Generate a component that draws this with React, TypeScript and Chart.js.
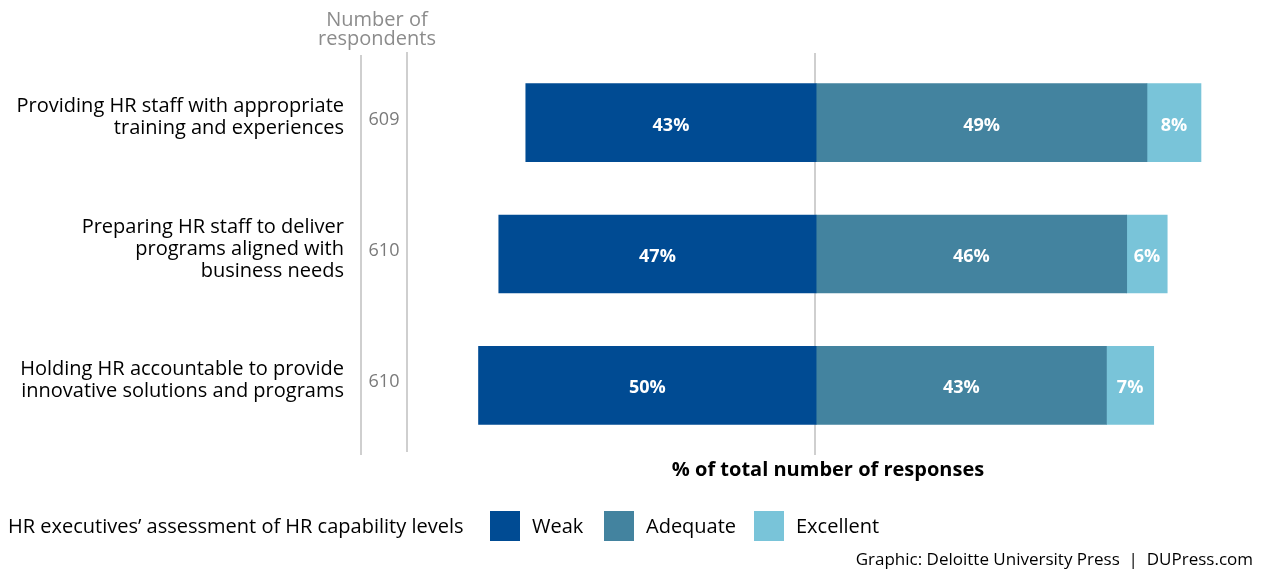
import React, { useEffect, useRef } from "react";
import { Chart, registerables } from "chart.js";

Chart.register(...registerables);

const categories: string[][] = [
  ["Providing HR staff with appropriate", "training and experiences"],
  ["Preparing HR staff to deliver", "programs aligned with", "business needs"],
  ["Holding HR accountable to provide", "innovative solutions and programs"],
];
const respondents = [609, 610, 610];
const weak = [43, 47, 50];
const adequate = [49, 46, 43];
const excellent = [8, 6, 7];
const seriesNames = ["Weak", "Adequate", "Excellent"];
const colors = ["#004B93", "#43839F", "#79C4D9"];

const FONT = "'Open Sans', 'Noto Sans', sans-serif";

const overlay = {
  id: "overlay",
  afterDatasetsDraw(chart: any) {
    const ctx = chart.ctx;
    ctx.save();
    ctx.fillStyle = "#ffffff";
    ctx.font = `bold 18px ${FONT}`;
    ctx.textAlign = "center";
    ctx.textBaseline = "middle";
    chart.data.datasets.forEach((ds: any, di: number) => {
      const meta = chart.getDatasetMeta(di);
      meta.data.forEach((bar: any, i: number) => {
        const v = Math.abs(ds.data[i]);
        const cx = (bar.x + bar.base) / 2;
        ctx.fillText(`${v}%`, cx, bar.y + 3);
      });
    });
    ctx.restore();
  },
  beforeDatasetsDraw(chart: any) {
    const ctx = chart.ctx;
    const y = chart.scales.y;
    const x = chart.scales.x;
    ctx.save();
    ctx.strokeStyle = "#cfcfcf";
    ctx.lineWidth = 2;
    const zx = Math.round(x.getPixelForValue(0)) - 1;
    ctx.beginPath();
    ctx.moveTo(zx, 53);
    ctx.lineTo(zx, 455);
    ctx.moveTo(361, 55);
    ctx.lineTo(361, 455);
    ctx.moveTo(407, 52);
    ctx.lineTo(407, 452);
    ctx.stroke();

    ctx.fillStyle = "#8c8c8c";
    ctx.font = `20px ${FONT}`;
    ctx.textAlign = "center";
    ctx.textBaseline = "middle";
    ctx.fillText("Number of", 377, 20);
    ctx.fillText("respondents", 377, 39);

    categories.forEach((lines, i) => {
      const cy = y.getPixelForValue(i) - 5;
      const lh = 22;
      ctx.fillStyle = "#000000";
      ctx.font = `20px ${FONT}`;
      ctx.textAlign = "right";
      lines.forEach((ln, j) => {
        ctx.fillText(ln, 344, cy + (j - (lines.length - 1) / 2) * lh);
      });
      ctx.fillStyle = "#7a7a7a";
      ctx.font = `18px ${FONT}`;
      ctx.textAlign = "center";
      ctx.fillText(String(respondents[i]), 384, cy + 2);
    });

    ctx.fillStyle = "#000000";
    ctx.font = `bold 20px ${FONT}`;
    ctx.textAlign = "center";
    ctx.fillText("% of total number of responses", 828, 470);

    ctx.font = `20px ${FONT}`;
    ctx.textAlign = "left";
    ctx.fillText("HR executives\u2019 assessment of HR capability levels", 8, 527);
    const lx = [490, 604, 754];
    seriesNames.forEach((n, i) => {
      ctx.fillStyle = colors[i];
      ctx.fillRect(lx[i], 511, 30, 30);
      ctx.fillStyle = "#000000";
      ctx.fillText(n, lx[i] + 42, 527);
    });

    ctx.font = `17px ${FONT}`;
    ctx.textAlign = "right";
    ctx.fillText("Graphic: Deloitte University Press  |  DUPress.com", 1253, 560);
    ctx.restore();
  },
};

export default function App() {
  const ref = useRef<HTMLCanvasElement>(null);
  useEffect(() => {
    if (!ref.current) return;
    const chart = new Chart(ref.current, {
      type: "bar",
      data: {
        labels: categories.map((c) => c.join(" ")),
        datasets: [
          { label: seriesNames[0], data: weak.map((v) => -v), backgroundColor: colors[0] },
          { label: seriesNames[1], data: adequate, backgroundColor: colors[1] },
          { label: seriesNames[2], data: excellent, backgroundColor: colors[2] },
        ],
      },
      options: {
        indexAxis: "y",
        animation: false,
        responsive: true,
        maintainAspectRatio: false,
        layout: { padding: { left: 411, right: 7, top: 57, bottom: 120 } },
        plugins: { legend: { display: false }, tooltip: { enabled: false } },
        datasets: { bar: { barThickness: 78, borderWidth: 0 } },
        scales: {
          x: { stacked: true, min: -60, max: 65, display: false },
          y: { stacked: true, display: false },
        },
      },
      plugins: [overlay],
    });
    return () => chart.destroy();
  }, []);
  return (
    <div style={{ position: "absolute", left: 0, top: 0, width: 1262, height: 571 }}>
      <canvas ref={ref} />
    </div>
  );
}
